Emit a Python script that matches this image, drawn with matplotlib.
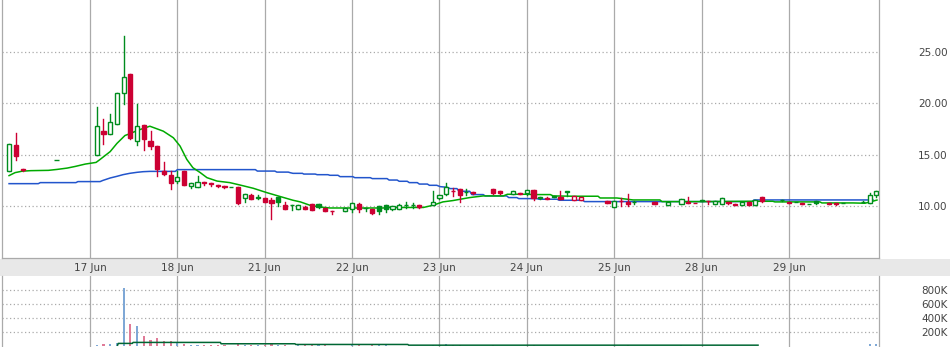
import matplotlib
matplotlib.use("Agg")
import matplotlib.pyplot as plt
from matplotlib.patches import Rectangle
import numpy as np

# half-hour bars, 13 slots per trading day
slot = [1, 2, 3, 8, 14, 15, 16, 17, 18, 19, 20, 21, 22, 23, 24, 25, 26, 27, 28, 29,
        30, 31, 32, 33, 34, 35, 36, 37, 38, 39, 40, 41, 42, 43, 44, 45, 46, 47, 48, 49,
        51, 52, 53, 54, 55, 56, 57, 58, 59, 60, 61, 62, 64, 65, 66, 67, 68, 69, 70, 73,
        74, 76, 77, 78, 79, 80, 81, 82, 83, 84, 85, 86, 90, 91, 92, 93, 94, 97, 99, 101,
        102, 103, 104, 105, 106, 107, 108, 109, 110, 111, 112, 113, 116, 117, 118, 119, 120, 121, 123, 124,
        125, 128, 129, 130]
opens = [13.4, 15.96, 13.6, 14.5, 15.0, 17.3, 17.0, 18.0, 20.95, 22.85, 16.35, 17.83, 16.28, 15.8, 13.38, 13.0, 12.44, 13.38, 11.96, 11.9,
         12.35, 12.25, 12.05, 11.92, 11.88, 11.84, 10.8, 11.06, 10.9, 10.77, 10.61, 10.94, 10.1, 10.08, 9.78, 9.96, 10.26, 10.26, 9.8, 9.53,
         9.55, 9.78, 10.19, 9.83, 9.71, 10.03, 10.16, 9.71, 9.78, 10.1, 10.1, 10.16, 10.13, 10.77, 11.19, 11.48, 11.64, 11.37, 11.42, 11.64,
         11.51, 11.23, 11.32, 11.26, 11.55, 10.9, 10.8, 10.94, 10.87, 11.41, 10.61, 10.58, 10.55, 9.97, 10.48, 10.45, 10.38, 10.45, 10.16, 10.26,
         10.39, 10.35, 10.55, 10.5, 10.26, 10.26, 10.42, 10.26, 10.16, 10.42, 10.16, 10.87, 10.61, 10.45, 10.42, 10.36, 10.22, 10.48, 10.27, 10.26,
         10.29, 10.41, 10.36, 11.13]
highs = [16.0, 17.15, 13.6, 14.5, 19.6, 18.5, 18.9, 21.0, 26.5, 22.85, 19.9, 17.9, 17.25, 15.8, 14.28, 13.38, 13.38, 13.38, 12.22, 12.9,
         12.35, 12.25, 12.05, 11.92, 11.9, 11.84, 11.16, 11.19, 11.06, 10.77, 10.8, 10.94, 10.42, 10.1, 10.13, 10.0, 10.26, 10.26, 9.8, 9.53,
         9.81, 10.36, 10.36, 9.84, 9.71, 10.03, 10.16, 10.0, 10.26, 10.39, 10.3, 10.16, 11.45, 11.06, 12.22, 11.8, 11.64, 11.64, 11.42, 11.64,
         11.51, 11.51, 11.32, 11.61, 11.55, 10.9, 10.85, 10.96, 11.45, 11.42, 11.0, 10.94, 10.55, 10.48, 10.84, 11.16, 10.55, 10.45, 10.42, 10.74,
         10.87, 10.35, 10.6, 10.5, 10.48, 10.84, 10.42, 10.26, 10.42, 10.42, 10.64, 10.87, 10.61, 10.45, 10.42, 10.36, 10.23, 10.55, 10.27, 10.26,
         10.29, 10.5, 11.32, 11.51]
lows = [13.4, 14.47, 13.42, 14.5, 15.0, 16.0, 17.0, 18.0, 19.9, 16.5, 15.9, 15.5, 15.57, 12.93, 12.99, 11.64, 12.22, 12.03, 11.77, 11.9,
        12.1, 11.96, 11.9, 11.8, 11.87, 10.22, 10.42, 10.68, 10.74, 10.42, 8.74, 10.03, 9.71, 9.61, 9.78, 9.71, 9.68, 9.81, 9.55, 9.23,
        9.55, 9.45, 9.45, 9.49, 9.23, 9.23, 9.45, 9.65, 9.78, 9.87, 9.85, 9.85, 10.13, 10.68, 11.06, 11.0, 10.45, 11.09, 11.2, 11.2,
        11.2, 11.15, 11.19, 11.1, 10.61, 10.71, 10.71, 10.9, 10.68, 11.0, 10.61, 10.58, 10.3, 9.97, 10.03, 10.03, 10.2, 10.26, 10.16, 10.26,
        10.32, 10.29, 10.5, 10.19, 10.26, 10.26, 10.2, 10.16, 10.16, 10.16, 10.16, 10.45, 10.48, 10.32, 10.42, 10.22, 10.22, 10.22, 10.25, 10.13,
        10.29, 10.38, 10.36, 10.9]
closes = [16.0, 14.86, 13.55, 14.5, 17.8, 17.0, 18.2, 21.0, 22.5, 16.6, 17.8, 16.5, 15.83, 13.57, 13.09, 12.25, 12.87, 12.03, 12.22, 12.32,
          12.3, 12.2, 12.0, 11.88, 11.89, 10.29, 11.16, 10.74, 10.78, 10.42, 10.36, 10.45, 9.71, 10.1, 10.13, 9.71, 9.68, 9.93, 9.55, 9.52,
          9.81, 10.36, 9.71, 9.84, 9.32, 9.55, 9.78, 10.0, 10.1, 10.11, 10.12, 9.9, 10.39, 11.06, 11.85, 11.47, 11.09, 11.38, 11.26, 11.25,
          11.24, 11.51, 11.19, 11.61, 10.77, 10.78, 10.72, 10.94, 10.71, 11.42, 11.0, 10.94, 10.36, 10.48, 10.47, 10.26, 10.39, 10.26, 10.42, 10.74,
          10.32, 10.31, 10.55, 10.47, 10.48, 10.84, 10.29, 10.16, 10.42, 10.16, 10.64, 10.55, 10.57, 10.32, 10.42, 10.22, 10.23, 10.3, 10.26, 10.25,
          10.29, 10.42, 11.06, 11.51]
volume = [8, 8, 8, 3, 18, 28, 30, 47, 833, 318, 290, 147, 90, 118, 75, 71, 51, 33, 25, 25,
          15, 18, 18, 15, 10, 40, 25, 20, 15, 20, 30, 20, 25, 12, 15, 15, 20, 15, 15, 12,
          12, 25, 20, 10, 15, 15, 15, 12, 12, 8, 8, 12, 20, 25, 40, 20, 20, 10, 10, 15,
          12, 12, 8, 12, 20, 10, 8, 5, 12, 8, 10, 10, 10, 15, 12, 15, 8, 8, 10, 15,
          10, 5, 5, 8, 8, 12, 8, 8, 10, 8, 10, 12, 8, 8, 5, 8, 5, 10, 5, 5,
          5, 10, 30, 40]  # thousands

# moving averages (slot position, value)
ma_fast_k = [0.95, 1.85, 2.9, 4.2, 6.8, 8.1, 9.6, 10.8, 12.3, 13.9, 14.5, 16.0, 17.0, 18.2, 19.0, 20.0, 20.9, 21.9,
             23.9, 25.4, 26.4, 27.4, 28.3, 29.4, 30.4, 31.9, 33.8, 35.3, 37.3, 39.3, 41.3, 43.2, 44.3, 45.7, 47.2, 48.7,
             56.6, 57.6, 62.6, 63.6, 64.6, 65.5, 67.0, 68.1, 69.5, 71.5, 74.5, 75.1, 78.0, 78.9, 81.5, 81.9, 84.9, 88.6,
             88.9, 91.4, 93.8, 97.8, 98.1, 103.8, 111.2, 114.6, 114.9, 121.6, 121.9, 126.5, 128.3, 129.1, 130.1]
ma_fast = [12.97, 13.26, 13.4, 13.45, 13.48, 13.57, 13.7, 13.86, 14.09, 14.25, 14.54, 15.3, 16.09, 16.86, 17.05, 17.34, 17.54, 17.76,
           17.28, 16.64, 15.83, 14.54, 13.74, 13.26, 12.77, 12.44, 12.29, 12.06, 11.74, 11.32, 10.94, 10.58, 10.42, 10.1, 9.93, 9.83,
           9.83, 9.88, 9.88, 10.03, 10.22, 10.42, 10.55, 10.68, 10.84, 11.0, 11.0, 11.16, 11.16, 11.13, 11.13, 11.0, 10.97, 10.97,
           10.8, 10.8, 10.61, 10.61, 10.45, 10.45, 10.48, 10.48, 10.42, 10.42, 10.32, 10.32, 10.29, 10.42, 10.6]
ma_slow_k = [0.95, 5.3, 5.6, 10.9, 11.2, 14.5, 14.9, 16.0, 17.0, 17.9, 18.9, 20.0, 20.9, 21.9, 25.7, 26.0, 37.6, 37.9,
             40.5, 40.8, 42.5, 42.8, 43.2, 44.6, 44.8, 46.5, 46.8, 48.4, 48.7, 49.9, 50.2, 52.1, 52.4, 54.7, 55.0, 57.2,
             57.5, 58.7, 59.0, 60.2, 60.5, 61.7, 62.0, 63.2, 63.5, 64.6, 65.1, 66.1, 66.6, 67.6, 67.9, 69.5, 69.8, 71.5,
             71.8, 75.0, 75.3, 76.5, 76.8, 79.5, 79.8, 82.5, 82.8, 86.3, 86.6, 111.5, 111.8, 129.5]
ma_slow = [12.19, 12.19, 12.29, 12.29, 12.39, 12.39, 12.5, 12.74, 12.9, 13.06, 13.19, 13.29, 13.35, 13.38, 13.38, 13.55, 13.55, 13.41,
           13.41, 13.31, 13.31, 13.25, 13.19, 13.19, 13.12, 13.12, 13.06, 13.06, 13.0, 13.0, 12.87, 12.87, 12.77, 12.77, 12.68, 12.68,
           12.54, 12.54, 12.42, 12.42, 12.29, 12.29, 12.15, 12.15, 12.03, 12.03, 11.9, 11.84, 11.71, 11.71, 11.45, 11.45, 11.13, 11.13,
           11.0, 11.0, 10.84, 10.84, 10.74, 10.74, 10.68, 10.68, 10.58, 10.58, 10.45, 10.45, 10.61, 10.61]
vol_ma_k = [17.1, 17.2, 19.3, 19.4, 32.4, 32.5, 43.5, 43.6, 60.3, 60.4, 112.4]
vol_ma = [18, 43, 43, 57, 57, 38, 38, 28, 28, 18, 18]  # thousands

day_starts = [13, 26, 39, 52, 65, 78, 91, 104, 117]
day_labels = ["17 Jun", "18 Jun", "21 Jun", "22 Jun", "23 Jun", "24 Jun", "25 Jun", "28 Jun", "29 Jun"]
price_ticks = [10, 15, 20, 25]
vol_ticks = [200, 400, 600, 800]

GREEN = "#008c1e"
RED = "#cc0033"
GRID = "#aaaaaa"
TXT = "#444444"

W, H = 950, 347
fig = plt.figure(figsize=(W / 100, H / 100), dpi=100)
ax = fig.add_axes([2 / W, 1 - 258 / H, 877 / W, 258 / H])
axv = fig.add_axes([2 / W, 0, 877 / W, (H - 276) / H])

# grey date band between the panes (drawn under the axes so the labels stay on top)
fig.patches.append(Rectangle((0, 1 - 276 / H), 1, 17 / H, transform=fig.transFigure,
                             facecolor="#e8e8e8", edgecolor="none", zorder=-1))

xlim = (-0.1, 130.4)
for a in (ax, axv):
    a.set_xlim(*xlim)
    for k in day_starts:
        a.axvline(k, color=GRID, lw=0.9, zorder=1)
    for s in ("left", "right"):
        a.spines[s].set_color(GRID)
        a.spines[s].set_linewidth(0.9)
    a.spines["top"].set_visible(False)
    a.tick_params(length=0, colors=TXT, labelsize=7.5)
    a.yaxis.tick_right()

ax.spines["bottom"].set_color(GRID)
ax.spines["bottom"].set_linewidth(0.9)
axv.spines["bottom"].set_visible(False)

# price pane
ax.set_ylim(4.98, 30.0)
for v in price_ticks:
    ax.axhline(v, color=GRID, lw=0.9, ls=(0, (1, 2)), zorder=1)
ax.set_yticks(price_ticks)
ax.set_yticklabels(["%.2f" % v for v in price_ticks], ha="right")
ax.tick_params(axis="y", pad=49.5)
ax.set_xticks(day_starts)
ax.set_xticklabels(day_labels)
ax.tick_params(axis="x", pad=3.5)

ax.plot(ma_slow_k, ma_slow, color="#2255cc", lw=1.1, zorder=3)
ax.plot(ma_fast_k, ma_fast, color="#00aa00", lw=1.1, zorder=3)

bw = 0.62
prev = closes[0]
for i, k in enumerate(slot):
    o, h, l, c = opens[i], highs[i], lows[i], closes[i]
    col = GREEN if (i == 0 or c >= prev) else RED
    prev = c
    ax.plot([k, k], [l, h], color=col, lw=1, zorder=4)
    lo, hi = min(o, c), max(o, c)
    face = "white" if c > o else col
    ax.add_patch(Rectangle((k - bw / 2, lo), bw, max(hi - lo, 0.02), facecolor=face,
                           edgecolor=col, lw=1, zorder=5))

# volume pane
axv.set_ylim(-8, 1000)
for v in vol_ticks:
    axv.axhline(v, color=GRID, lw=0.9, ls=(0, (1, 2)), zorder=1)
axv.set_yticks(vol_ticks)
axv.set_yticklabels(["%dK" % v for v in vol_ticks], ha="right")
axv.tick_params(axis="y", pad=49.5)
axv.set_xticks([])

prev = closes[0]
vcols = []
for i in range(len(slot)):
    c = closes[i]
    vcols.append("#e07b98" if (i < 3 or c < prev) else "#7fa8d6")
    prev = c
axv.bar(slot, volume, width=0.32, color=vcols, zorder=3)
axv.plot(vol_ma_k, vol_ma, color="#006633", lw=1.1, zorder=4)

fig.savefig("out.png", dpi=100)
